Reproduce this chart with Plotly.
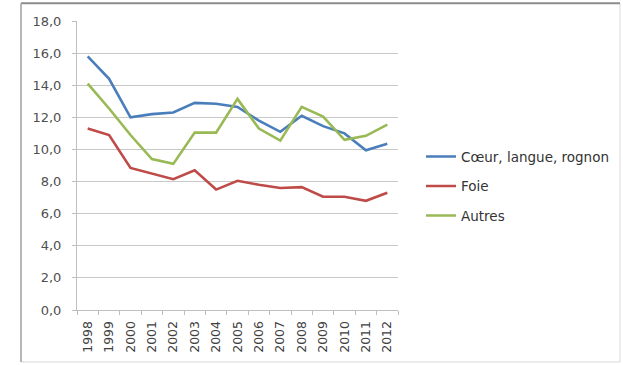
import plotly.graph_objects as go

years = [str(y) for y in range(1998, 2013)]

coeur = [15.8, 14.4, 12.0, 12.2, 12.3, 12.9, 12.85, 12.65, 11.8, 11.1, 12.1, 11.45, 11.0, 9.95, 10.35]
foie = [11.3, 10.9, 8.85, 8.5, 8.15, 8.7, 7.5, 8.05, 7.8, 7.6, 7.65, 7.05, 7.05, 6.8, 7.3]
autres = [14.1, 12.55, 10.9, 9.4, 9.1, 11.05, 11.05, 13.15, 11.3, 10.55, 12.65, 12.05, 10.6, 10.85, 11.55]

series = [
    ("Cœur, langue, rognon", coeur, "#4A7EBB"),
    ("Foie", foie, "#BE4B48"),
    ("Autres", autres, "#98B954"),
]

FONT = "'DejaVu Sans', sans-serif"

fig = go.Figure()
for i, (name, vals, col) in enumerate(series):
    fig.add_trace(go.Scatter(
        x=years, y=vals, name=name, mode="lines",
        line=dict(color=col, width=2.6),
        legendgroup=f"g{i}",
    ))

# plot-area pixel geometry: x 77..398, y 20.7..310
L, R, T, B = 77, 398, 20.7, 310
W, H = 623, 365
pw, ph = R - L, B - T

def px_x(p):
    return (p - L) / pw

def px_y(p):
    return (B - p) / ph

fig.update_layout(
    width=W, height=H,
    margin=dict(l=L, r=W - R, t=T, b=H - B, pad=0, autoexpand=False),
    paper_bgcolor="white", plot_bgcolor="white",
    separators=", ",
    font=dict(family=FONT, size=13, color="#404040"),
    showlegend=True,
    legend=dict(
        x=px_x(421), y=px_y(141), xanchor="left", yanchor="top",
        traceorder="grouped", tracegroupgap=9,
        font=dict(family=FONT, size=13.5, color="#333333"),
        bgcolor="rgba(0,0,0,0)", itemwidth=30,
    ),
    xaxis=dict(
        type="category", tickson="boundaries", ticks="outside", ticklen=4,
        tickcolor="#bfbfbf", showline=True, linecolor="#bfbfbf", linewidth=1,
        showgrid=False, tickangle=-90, tickfont=dict(size=12.5, color="#404040"),
        ticklabelstandoff=5, range=[-0.5, 14.5],
    ),
    yaxis=dict(
        range=[0, 18], dtick=2, tickformat=".1f", ticks="outside", ticklen=4,
        tickcolor="#bfbfbf", showline=True, linecolor="#bfbfbf", linewidth=1,
        showgrid=True, gridcolor="#c8c8c8", gridwidth=1, zeroline=False,
        tickfont=dict(size=13, color="#505050"), ticklabelstandoff=8,
    ),
)

# outer chart frame
fig.add_shape(type="rect", xref="paper", yref="paper",
              x0=px_x(21), x1=px_x(620), y0=px_y(362), y1=px_y(3),
              line=dict(color="#d9d9d9", width=1), layer="below")
fig.add_shape(type="line", xref="paper", yref="paper",
              x0=px_x(21), x1=px_x(620), y0=px_y(3), y1=px_y(3),
              line=dict(color="#8c8c8c", width=2))
fig.add_shape(type="line", xref="paper", yref="paper",
              x0=px_x(21), x1=px_x(21), y0=px_y(362), y1=px_y(3),
              line=dict(color="#a6a6a6", width=1.5))

fig.write_html("out.html")
